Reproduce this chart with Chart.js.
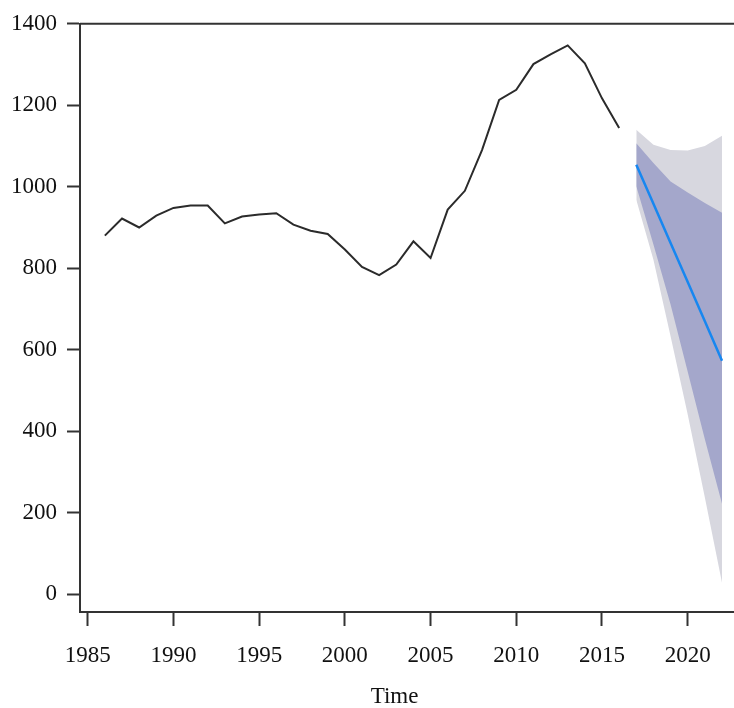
<!DOCTYPE html>
<html>
<head>
<meta charset="utf-8">
<title>Forecast</title>
<script src="https://cdn.jsdelivr.net/npm/chart.js@4/dist/chart.umd.min.js"></script>
<style>
  body { margin: 0; background: #fff; }
  #wrap { width: 734px; height: 708px; }
</style>
</head>
<body>
<div id="wrap"><canvas id="forecastChart"></canvas></div>
<script>
// observed series, 1986-2016
const histYears = [1986, 1987, 1988, 1989, 1990, 1991, 1992, 1993, 1994, 1995, 1996,
  1997, 1998, 1999, 2000, 2001, 2002, 2003, 2004, 2005, 2006, 2007, 2008, 2009,
  2010, 2011, 2012, 2013, 2014, 2015, 2016];
const histValues = [880, 922, 900, 929, 948, 954, 954, 910, 927, 932, 935,
  907, 892, 884, 846, 803, 783, 809, 866, 825, 944, 990, 1090, 1213,
  1238, 1301, 1325, 1347, 1303, 1217, 1144];

// forecast, 2017-2022
const fcYears = [2017, 2018, 2019, 2020, 2021, 2022];
const fcMean = [1054, 958, 862, 766, 670, 573];
const lo80 = [1001, 858, 711, 546, 380, 222];
const hi80 = [1107, 1058, 1013, 986, 960, 936];
const lo95 = [968, 821, 633, 441, 237, 28];
const hi95 = [1140, 1103, 1090, 1089, 1100, 1125];

// axis ticks
const xTicks = [1985, 1990, 1995, 2000, 2005, 2010, 2015, 2020];
const yTicks = [0, 200, 400, 600, 800, 1000, 1200, 1400];

const axisColor = '#333';
const tickFont = { family: '"Liberation Serif", "Times New Roman", serif', size: 23 };

function pts(xs, ys) {
  return xs.map((x, i) => ({ x: x, y: ys[i] }));
}

// top border of the plot box + the x axis title
const boxAndTitle = {
  id: 'boxAndTitle',
  afterDraw(chart) {
    const ctx = chart.ctx;
    const area = chart.chartArea;
    ctx.save();
    ctx.strokeStyle = axisColor;
    ctx.lineWidth = 2;
    ctx.beginPath();
    ctx.moveTo(area.left, area.top);
    ctx.lineTo(area.right, area.top);
    ctx.stroke();

    ctx.fillStyle = '#111';
    ctx.font = '23px "Liberation Serif", "Times New Roman", serif';
    ctx.textAlign = 'center';
    ctx.textBaseline = 'alphabetic';
    ctx.fillText('Time', area.left + (area.right - area.left) * 0.481, chart.height - 5);
    ctx.restore();
  }
};

const ctx = document.getElementById('forecastChart').getContext('2d');
const chart = new Chart(ctx, {
  type: 'line',
  data: {
    datasets: [
      {
        label: 'Observed',
        data: pts(histYears, histValues),
        borderColor: '#2b2b2b',
        borderWidth: 2,
        pointRadius: 0,
        fill: false,
        order: 0
      },
      {
        label: 'Forecast',
        data: pts(fcYears, fcMean),
        borderColor: '#1787f0',
        borderWidth: 2.5,
        pointRadius: 0,
        fill: false,
        order: 1
      },
      {
        label: 'Hi 80',
        data: pts(fcYears, hi80),
        borderWidth: 0,
        borderColor: 'rgba(0,0,0,0)',
        backgroundColor: '#a4a7cb',
        pointRadius: 0,
        fill: 3,
        order: 2
      },
      {
        label: 'Lo 80',
        data: pts(fcYears, lo80),
        borderWidth: 0,
        borderColor: 'rgba(0,0,0,0)',
        pointRadius: 0,
        fill: false,
        order: 3
      },
      {
        label: 'Hi 95',
        data: pts(fcYears, hi95),
        borderWidth: 0,
        borderColor: 'rgba(0,0,0,0)',
        backgroundColor: '#d7d7df',
        pointRadius: 0,
        fill: 5,
        order: 4
      },
      {
        label: 'Lo 95',
        data: pts(fcYears, lo95),
        borderWidth: 0,
        borderColor: 'rgba(0,0,0,0)',
        pointRadius: 0,
        fill: false,
        order: 5
      }
    ]
  },
  options: {
    responsive: true,
    maintainAspectRatio: false,
    animation: false,
    layout: { padding: { top: 22, right: 0, left: 0, bottom: 0 } },
    plugins: {
      legend: { display: false },
      tooltip: { enabled: false }
    },
    elements: { line: { tension: 0 } },
    scales: {
      x: {
        type: 'linear',
        min: 1984.55,
        max: 2022.7,
        afterFit: (scale) => { scale.height = 96; },
        afterBuildTicks: (scale) => { scale.ticks = xTicks.map(v => ({ value: v })); },
        grid: {
          drawOnChartArea: false,
          drawTicks: true,
          tickLength: 14,
          tickWidth: 2,
          tickColor: axisColor
        },
        border: { display: true, color: axisColor, width: 2 },
        ticks: {
          color: '#111',
          font: tickFont,
          padding: 16,
          maxRotation: 0,
          callback: (v) => String(v)
        }
      },
      y: {
        min: -44,
        max: 1400,
        afterFit: (scale) => { scale.width = 80; },
        afterBuildTicks: (scale) => { scale.ticks = yTicks.map(v => ({ value: v })); },
        grid: {
          drawOnChartArea: false,
          drawTicks: true,
          tickLength: 13,
          tickWidth: 2,
          tickColor: axisColor
        },
        border: { display: true, color: axisColor, width: 2 },
        ticks: {
          color: '#111',
          font: tickFont,
          padding: 10,
          callback: (v) => String(v)
        }
      }
    }
  },
  plugins: [boxAndTitle]
});
</script>
</body>
</html>
